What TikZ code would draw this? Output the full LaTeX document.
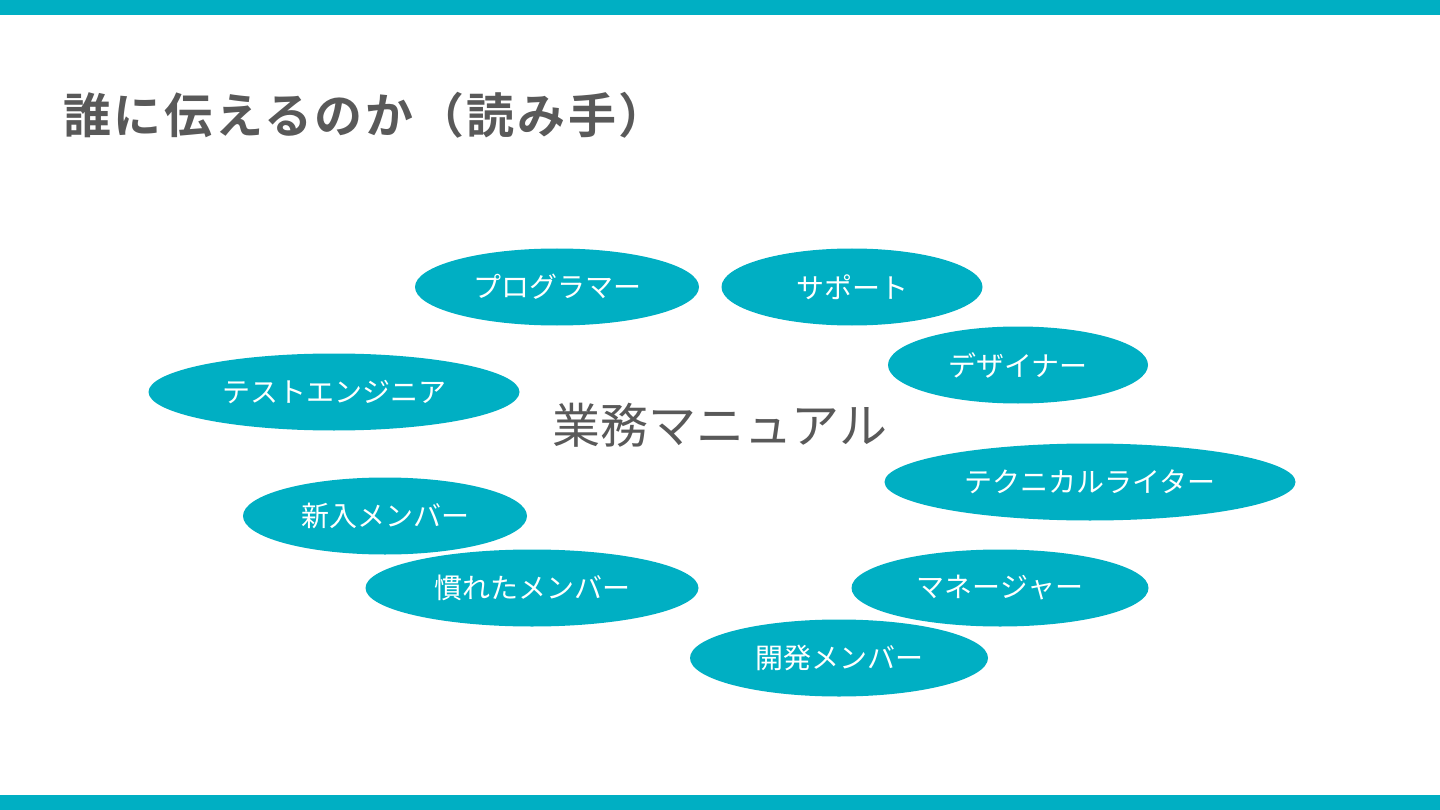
\documentclass[tikz,border=0pt]{standalone}
\usepackage{fontspec}
\newfontfamily\jpfont{Noto Sans CJK JP}
\newfontfamily\jpbold[LetterSpace=5.5]{Noto Sans CJK JP Bold}
\usetikzlibrary{shapes.geometric}
\definecolor{slideteal}{RGB}{0,175,195}
\definecolor{slidegray}{RGB}{89,89,89}

\begin{document}
\begin{tikzpicture}[x=1pt,y=-1pt,
  reader/.style={ellipse,fill=slideteal,text=white,inner sep=0pt,
                 font=\jpfont\fontsize{28}{32}\selectfont,minimum height=77pt}]
\useasboundingbox (0,0) rectangle (1440,810);
\fill[slideteal] (0,0) rectangle (1440,15);
\fill[slideteal] (0,795) rectangle (1440,810);
\node[anchor=west,text=slidegray,inner sep=0pt,font=\jpbold\fontsize{48}{54}\selectfont]
  (title) at (63,115) {誰に伝えるのか（読み手）};
\node[text=slidegray,inner sep=0pt,font=\jpfont\fontsize{48}{54}\selectfont]
  (manual) at (720,425) {業務マニュアル};
% readers
\node[reader,minimum width=284pt] (programmer) at (557,287) {プログラマー};
\node[reader,minimum width=261pt] (support) at (852,287) {サポート};
\node[reader,minimum width=260pt] (designer) at (1018,365) {デザイナー};
\node[reader,minimum width=371pt] (tester) at (334,392) {テストエンジニア};
\node[reader,minimum width=411pt] (writer) at (1090,482) {テクニカルライター};
\node[reader,minimum width=284pt] (newbie) at (385,516) {新入メンバー};
\node[reader,minimum width=333pt] (veteran) at (532,588) {慣れたメンバー};
\node[reader,minimum width=297pt] (manager) at (1000,588) {マネージャー};
\node[reader,minimum width=298pt] (developer) at (839,658) {開発メンバー};
\end{tikzpicture}
\end{document}
